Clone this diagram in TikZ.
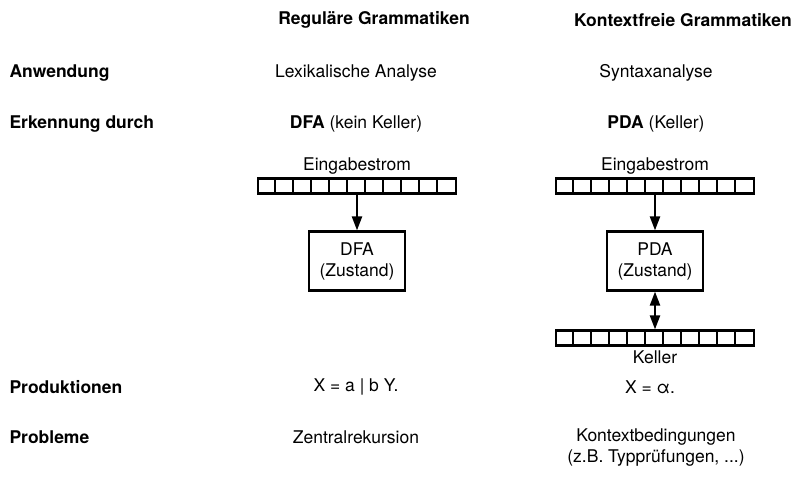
\documentclass[tikz,border=0pt]{standalone}
\usepackage{fontspec}
\setmainfont{TeX Gyre Heros}
\usepackage{tikz}
\usetikzlibrary{positioning, arrows.meta}

\newcommand{\diafont}{\fontsize{17.5}{21}\selectfont}
\tikzset{
  head/.style={font=\diafont\bfseries},
  rowlbl/.style={anchor=west, font=\diafont\bfseries},
  tape/.style={draw, line width=2.2pt, minimum width=198pt, minimum height=15pt, inner sep=0pt},
  cell/.style={line width=2.2pt},
  zbox/.style={draw, line width=2.2pt, minimum width=96pt, minimum height=59pt, align=center, inner sep=2pt},
  flow/.style={line width=2.2pt, -{Triangle[length=14pt, width=10pt]}},
  dflow/.style={line width=2.2pt, {Triangle[length=14pt, width=10pt]}-{Triangle[length=14pt, width=10pt]}},
}
\newcommand{\tapecells}[1]{%
  \foreach \i in {1,...,10}
    \draw[cell] ([xshift=\i*18pt]#1.north west) -- ([xshift=\i*18pt]#1.south west);}

\begin{document}
\begin{tikzpicture}[x=1pt, y=-1pt, font=\diafont]
  \useasboundingbox (0,0) rectangle (792,498);

  % Kopfzeile
  \node[head] (hreg) at (374,20) {Reguläre Grammatiken};
  \node[head] (hkf) at (683,20) {Kontextfreie Grammatiken};

  % Zeilen
  \node[rowlbl] (lanw) at (6,73) {Anwendung};
  \node[rowlbl] (lerk) at (6,124) {Erkennung durch};
  \node[rowlbl] (lprod) at (6,387) {Produktionen};
  \node[rowlbl] (lprob) at (6,437) {Probleme};

  % Reguläre Grammatiken
  \node (anwreg) at (356,73) {Lexikalische Analyse};
  \node (erkreg) at (356,124) {\textbf{DFA} (kein Keller)};
  \node[tape] (einreg) at (357,186) {};
  \tapecells{einreg}
  \node[above=0pt of einreg] (einreglbl) {Eingabestrom};
  \node[zbox] (dfa) at (357,261) {DFA\\(Zustand)};
  \draw[flow] (einreg) -- (dfa);
  \node (prodreg) at (356,387) {X = a | b Y.};
  \node (probreg) at (356,437) {Zentralrekursion};

  % Kontextfreie Grammatiken
  \node (anwkf) at (656,73) {Syntaxanalyse};
  \node (erkkf) at (656,124) {\textbf{PDA} (Keller)};
  \node[tape] (einkf) at (655,186) {};
  \tapecells{einkf}
  \node[above=0pt of einkf] (einkflbl) {Eingabestrom};
  \node[zbox] (pda) at (655,261) {PDA\\(Zustand)};
  \draw[flow] (einkf) -- (pda);
  \node[tape] (keller) at (655,338) {};
  \tapecells{keller}
  \node[below=1pt of keller] (kellerlbl) {Keller};
  \draw[dflow] (pda) -- (keller);
  \node (prodkf) at (650,387) {X = α.};
  \node[align=center] (probkf) at (656,448) {Kontextbedingungen\\(z.B. Typprüfungen, ...)};
\end{tikzpicture}
\end{document}
